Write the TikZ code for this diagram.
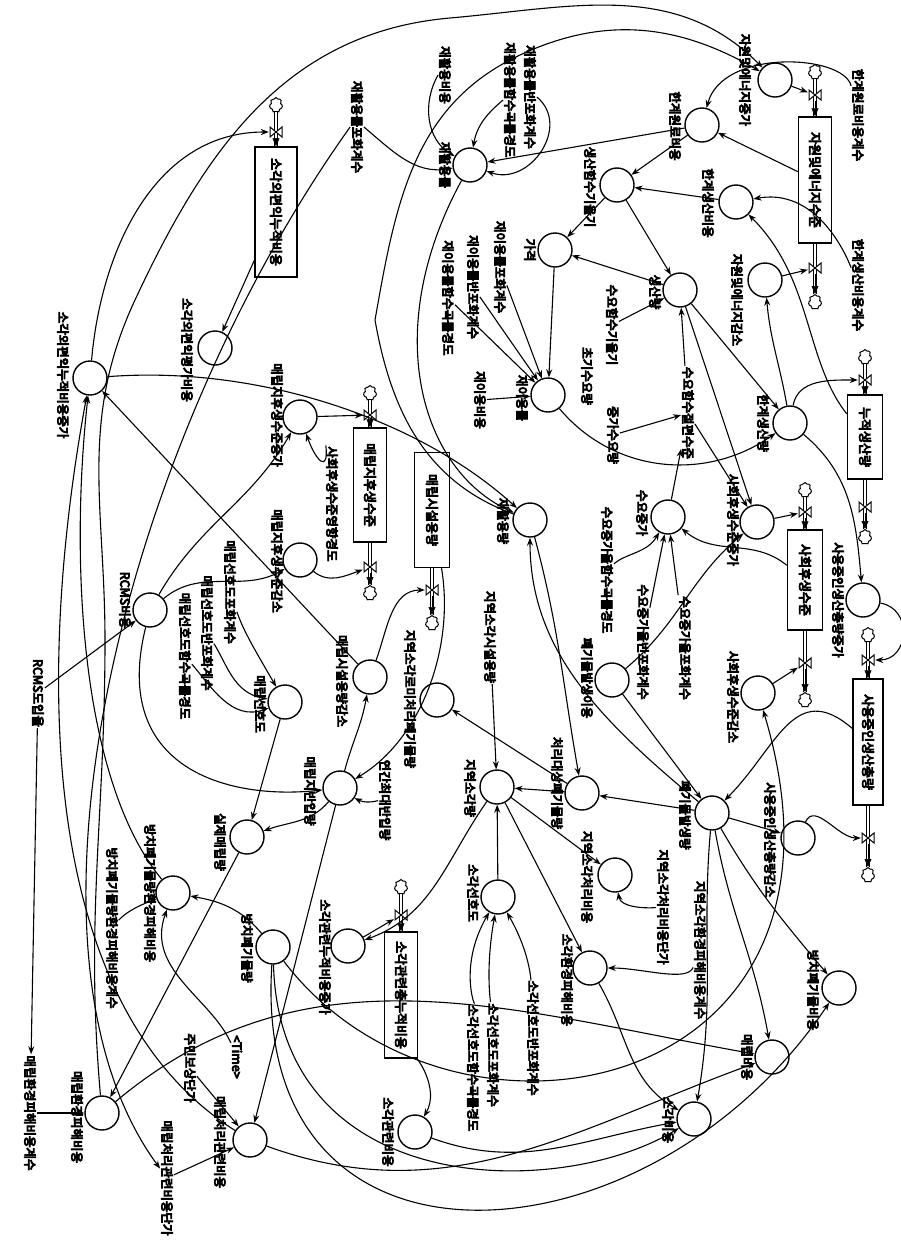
\documentclass[tikz,border=0pt]{standalone}
\usepackage{fontspec}
\newfontfamily\krfont{Noto Sans CJK KR}
\newcommand\boldon{\special{pdf:literal direct 2 Tr 0.9 w}}
\newcommand\boldoff{\special{pdf:literal direct 0 Tr}}
\usetikzlibrary{shapes.symbols,arrows.meta}
\begin{document}
\begin{tikzpicture}[x=1pt,y=1pt,
  lbl/.style={font=\krfont\fontsize{12.5}{12.5}\selectfont, rotate=-90, inner sep=1pt, execute at begin node=\boldon, execute at end node=\boldoff},
  circ/.style={circle, draw, line width=1.4pt, minimum size=34pt, inner sep=0pt},
  stock/.style={rectangle, draw, line width=1.4pt, rotate=-90, font=\krfont\fontsize{13}{13}\selectfont, inner sep=2pt, execute at begin node=\boldon, execute at end node=\boldoff},
  vnode/.style={inner sep=0pt, minimum width=14pt, minimum height=12pt},
  cloudn/.style={cloud, draw, cloud puffs=7, aspect=0.85, minimum width=13pt, minimum height=15pt, inner sep=0pt, line width=1pt},
  arr/.style={-{Stealth[length=8pt,width=6pt]}, line width=1.1pt},
  pipe/.style={double, double distance=2.6pt, line width=0.8pt},
  ftip/.style={-{Triangle[length=8pt,width=7pt]}, line width=0.6pt},
  bowtie/.pic={\draw[fill=white, line width=1pt] (-6,5)--(-6,-5)--(6,5)--(6,-5)--cycle;}
]
\fill[white] (0,0) rectangle (901,-1251);
\useasboundingbox (0,0) rectangle (901,-1251);

% ---------- stocks ----------
\node[stock, minimum width=126pt, minimum height=33pt] (B1) at (815,-180) {자원및에너지수준};
\node[stock, minimum width=84pt, minimum height=35pt] (B2) at (865,-437) {누적생산량};
\node[stock, minimum width=100pt, minimum height=35pt] (B3) at (805,-580) {사회후생수준};
\node[stock, minimum width=126pt, minimum height=30pt] (B4) at (868,-742) {사용중인생산총량};
\node[stock, minimum width=114pt, minimum height=33pt] (B5) at (370,-485) {매립지후생수준};
\node[stock, minimum width=115pt, minimum height=35pt] (B6) at (432,-510) {매립시설용량};
\node[stock, minimum width=130pt, minimum height=42pt] (B7) at (276,-212) {소각외편익누적비용};
\node[stock, minimum width=126pt, minimum height=33pt] (B8) at (401,-995) {소각관련총누적비용};

% ---------- clouds and valves ----------
\node[cloudn] (k1a) at (815,-72) {};   \node[vnode] (v1in) at (815,-95) {};
\node[vnode] (v1out) at (815,-268) {}; \node[cloudn] (k1b) at (815,-302) {};
\node[cloudn] (k2a) at (865,-357) {};  \node[vnode] (v2in) at (865,-380) {};
\node[vnode] (v2out) at (865,-507) {}; \node[cloudn] (k2b) at (865,-537) {};
\node[cloudn] (k3a) at (805,-490) {};  \node[vnode] (v3in) at (805,-512) {};
\node[vnode] (v3out) at (805,-663) {}; \node[cloudn] (k3b) at (805,-700) {};
\node[cloudn] (k4a) at (868,-635) {};  \node[vnode] (v4in) at (868,-660) {};
\node[vnode] (v4out) at (868,-838) {}; \node[cloudn] (k4b) at (868,-875) {};
\node[cloudn] (k5a) at (370,-393) {};  \node[vnode] (v5in) at (370,-415) {};
\node[vnode] (v5out) at (370,-567) {}; \node[cloudn] (k5b) at (370,-593) {};
\node[vnode] (v6out) at (432,-590) {}; \node[cloudn] (k6b) at (432,-623) {};
\node[cloudn] (k7a) at (276,-105) {};  \node[vnode] (v7in) at (276,-132) {};
\node[cloudn] (k8a) at (401,-887) {};  \node[vnode] (v8in) at (401,-915) {};

\foreach \k/\b in {k1a/B1,k2a/B2,k3a/B3,k4a/B4,k5a/B5,k7a/B7,k8a/B8}
  \draw[pipe] (\k) -- (\b.west);
\foreach \b/\k in {B1/k1b,B2/k2b,B3/k3b,B4/k4b,B5/k5b,B6/k6b}
  \draw[pipe] (\b.east) -- (\k);
\foreach \v/\b in {v1in/B1,v2in/B2,v3in/B3,v4in/B4,v5in/B5,v7in/B7,v8in/B8}
  \draw[ftip] (\v) -- (\b.west);
\foreach \v/\k in {v1out/k1b,v2out/k2b,v3out/k3b,v4out/k4b,v5out/k5b,v6out/k6b}
  \draw[ftip] (\v) -- (\k);
\foreach \v in {v1in,v1out,v2in,v2out,v3in,v3out,v4in,v4out,v5in,v5out,v6out,v7in,v8in}
  \pic at (\v) {bowtie};

% ---------- auxiliaries ----------
\node[circ] (cZAinc) at (775,-80) {};
\node[circ] (cHW) at (702,-125) {};
\node[circ] (cHS) at (736,-202) {};
\node[circ] (cZAdec) at (765,-280) {};
\node[circ] (cPS) at (617,-185) {};
\node[circ] (cPrice) at (555,-250) {};
\node[circ] (cQ) at (680,-290) {};
\node[circ] (cMarg) at (790,-423) {};
\node[circ] (cUseInc) at (863,-600) {};
\node[circ] (cUseDec) at (798,-838) {};
\node[circ] (cWaste) at (712,-813) {};
\node[circ] (cSWinc) at (757,-522) {};
\node[circ] (cSWdec) at (758,-693) {};
\node[circ] (cDemInc) at (668,-517) {};
\node[circ] (cReuse) at (548,-395) {};
\node[circ] (cRecycle) at (470,-165) {};
\node[circ] (cRecAmt) at (530,-520) {};
\node[circ] (cLFinc) at (300,-417) {};
\node[circ] (cLFdec) at (300,-560) {};
\node[circ] (cCapDec) at (370,-677) {};
\node[circ] (cUnproc) at (437,-700) {};
\node[circ] (cLFin) at (340,-788) {};
\node[circ] (cInc) at (497,-787) {};
\node[circ] (cTreat) at (582,-793) {};
\node[circ] (cIncCost) at (615,-875) {};
\node[circ] (cGen) at (612,-680) {};
\node[circ] (cIncPref) at (498,-897) {};
\node[circ] (cIncCumInc) at (348,-946) {};
\node[circ] (cIncRel) at (415,-1132) {};
\node[circ] (cIncEnv) at (590,-968) {};
\node[circ] (cLFcost) at (772,-1057) {};
\node[circ] (cAbCost) at (839,-988) {};
\node[circ] (cIncCost2) at (694,-1119) {};
\node[circ] (cActLF) at (247,-837) {};
\node[circ] (cAbEnv) at (173,-893) {};
\node[circ] (cAb) at (273,-947) {};
\node[circ] (cLFrel) at (250,-1140) {};
\node[circ] (cLFenv) at (102,-1113) {};
\node[circ] (cRCMS) at (150,-610) {};
\node[circ] (cLFpref) at (285,-702) {};
\node[circ] (cIBinc) at (90,-378) {};
\node[circ] (cIBeval) at (215,-348) {};

% ---------- labels ----------
\node[lbl] (lHWk) at (858,-115) {한계원료비용계수};
\node[lbl] (lHSk) at (858,-285) {한계생산비용계수};
\node[lbl] (lZAinc) at (745,-80) {자원및에너지증가};
\node[lbl] (lHW) at (675,-126) {한계원료비용};
\node[lbl] (lHS) at (708,-203) {한계생산비용};
\node[lbl] (lZAdec) at (737,-300) {자원및에너지감소};
\node[lbl] (lPS) at (590,-187) {생산함수기울기};
\node[lbl] (lPrice) at (530,-250) {가격};
\node[lbl] (lQ) at (655,-292) {생산량};
\node[lbl] (lDS) at (612,-325) {수요함수기울기};
\node[lbl] (lD0) at (587,-376) {초기수요량};
\node[lbl] (lDinc) at (613,-435) {증가수요량};
\node[lbl] (lDI) at (688,-413) {수요함수절편수준};
\node[lbl] (lMarg) at (763,-423) {한계생산량};
\node[lbl] (lDemInc) at (642,-513) {수요증가};
\node[lbl] (lSWinc) at (733,-520) {사회후생수준증가};
\node[lbl] (lUseInc) at (838,-600) {사용중인생산총량증가};
\node[lbl] (lSWdec) at (733,-697) {사회후생수준감소};
\node[lbl] (lUseDec) at (770,-840) {사용중인생산총량감소};
\node[lbl] (lWaste) at (685,-815) {폐기물발생량};
\node[lbl] (lIncUnit) at (663,-907) {지역소각처리비용단가};
\node[lbl] (lIncEnvk) at (700,-950) {지역소각환경피해비용계수};
\node[lbl] (lDg1) at (607,-570) {수요증가율함수곡률경도};
\node[lbl] (lDg2) at (643,-642) {수요증가율반포화계수};
\node[lbl] (lDg3) at (685,-648) {수요증가율포화계수};
\node[lbl] (lRcost) at (445,-75) {재활용비용};
\node[lbl] (lRsat) at (357,-127) {재활용률포화계수};
\node[lbl] (lRecycle) at (445,-165) {재활용률};
\node[lbl] (lRcurv) at (510,-100) {재활용률함수곡률경도};
\node[lbl] (lRhalf) at (530,-97) {재활용률반포화계수};
\node[lbl] (lUsat) at (500,-267) {재이용률포화계수};
\node[lbl] (lUhalf) at (473,-287) {재이용률반포화계수};
\node[lbl] (lUcurv) at (448,-298) {재이용률함수곡률경도};
\node[lbl] (lUcost) at (480,-400) {재이용비용};
\node[lbl] (lReuse) at (522,-398) {재이용률};
\node[lbl] (lRecAmt) at (503,-521) {재활용량};
\node[lbl] (lIBeval) at (187,-350) {소각외편익평가비용};
\node[lbl] (lIBinc) at (63,-375) {소각외편익누적비용증가};
\node[lbl] (lLFinc) at (277,-415) {매립지후생수준증가};
\node[lbl] (lSWk) at (332,-504) {사회후생수준영향경도};
\node[lbl] (lLFdec) at (277,-561) {매립지후생수준감소};
\node[lbl] (lLsat) at (230,-592) {매립선호도포화계수};
\node[lbl] (lLhalf) at (207,-633) {매립선호도반포화계수};
\node[lbl] (lLcurv) at (185,-656) {매립선호도함수곡률경도};
\node[lbl] (lRCMS) at (125,-600) {RCMS비용};
\node[lbl] (lRCMSr) at (38,-693) {RCMS도입율};
\node[lbl] (lLFpref) at (260,-704) {매립선호도};
\node[lbl] (lCapDec) at (342,-681) {매립시설용량감소};
\node[lbl] (lUnproc) at (410,-699) {지역소각로미처리폐기물량};
\node[lbl] (lIncCap) at (490,-637) {지역소각시설용량};
\node[lbl] (lGen) at (587,-678) {폐기물발생이용};
\node[lbl] (lMaxIn) at (385,-800) {연간최대반입량};
\node[lbl] (lLFin) at (310,-791) {매립지반입량};
\node[lbl] (lInc) at (470,-788) {지역소각량};
\node[lbl] (lTreat) at (557,-783) {처리대상폐기물량};
\node[lbl] (lIncCost) at (587,-877) {지역소각처리비용};
\node[lbl] (lActLF) at (220,-842) {실제매립량};
\node[lbl] (lAbEnv) at (150,-893) {방치폐기물량환경피해비용};
\node[lbl] (lAbEnvk) at (112,-928) {방치폐기물량환경피해비용계수};
\node[lbl] (lAb) at (247,-948) {방치폐기물량};
\node[lbl] (lIncPref) at (473,-893) {소각선호도};
\node[lbl] (lIncCumInc) at (325,-957) {소각관련누적비용증가};
\node[lbl] (lIncEnv) at (567,-980) {소각환경피해비용};
\node[lbl] (lIsat) at (493,-1055) {소각선호도포화계수};
\node[lbl] (lIhalf) at (533,-1038) {소각선호도반포화계수};
\node[lbl] (lIcurv) at (473,-1068) {소각선호도함수곡률경도};
\node[lbl] (lIncRel) at (388,-1132) {소각관련비용};
\node[lbl] (lLFenvk) at (30,-1113) {매립환경피해비용계수};
\node[lbl] (lLFenv) at (77,-1117) {매립환경피해비용};
\node[lbl] (lComp) at (190,-1068) {주민보상단가};
\node[lbl] (lTime) at (237,-1057) {<Time>};
\node[lbl] (lLFunit) at (167,-1178) {매립처리관련비용단가};
\node[lbl] (lLFrel) at (220,-1142) {매립처리관련비용};
\node[lbl] (lLFcost) at (747,-1057) {매립비용};
\node[lbl] (lAbCost) at (813,-990) {방치폐기물비용};
\node[lbl] (lIncCost2) at (668,-1120) {소각비용};

% ---------- connectors ----------
\draw[arr] (lHWk) to[out=110,in=75] (cHW);
\draw[arr] (lHSk) to[out=120,in=10] (cHS);
\draw[arr] (cZAinc) -- (v1in);
\draw[arr] (B1) -- (cHW);
\draw[arr] (cZAdec) -- (v1out);
\draw[arr] (cMarg) to[out=100,in=-85] (cZAdec);
\draw[arr] (cHW) -- (cPS);
\draw[arr] (cHS) -- (cPS);
\draw[arr] (cHW) -- (cRecycle);
\draw[arr] (cPS) -- (cPrice);
\draw[arr] (cPS) -- (cQ);
\draw[arr] (cQ) -- (cPrice);
\draw[arr] (lDS) -- (cQ);
\draw[arr] (lDI) -- (cQ);
\draw[arr] (cQ) -- (cMarg);
\draw[arr] (cQ) -- (cSWinc);
\draw[arr] (lDI) -- (cSWinc);
\draw[arr] (lDinc) -- (lDI);
\draw[arr] (cDemInc) -- (lDI);
\draw[arr] (B3) to[out=190,in=-40] (cDemInc);
\draw[arr] (cReuse) to[out=-50,in=215] (cMarg);
\draw[arr] (cMarg) to[out=80,in=180] (v2in);
\draw[arr] (cMarg) to[out=-40,in=95] (cUseInc);
\draw[arr] (B2) to[out=150,in=-45] (cHS);
\draw[arr] (lDg1) to[out=60,in=240] (cDemInc);
\draw[arr] (lDg2) -- (cDemInc);
\draw[arr] (lDg3) -- (cDemInc);
\draw[arr] (cGen) to[out=40,in=220] (cSWinc);
\draw[arr] (cGen) -- (cWaste);
\draw[arr] (cWaste) .. controls (600,-720) and (530,-650) .. (cRecAmt);
\draw[arr] (cRecAmt) to[out=-75,in=100] (cTreat);
\draw[arr] (cSWinc) -- (v3in);
\draw[arr] (cSWdec) -- (v3out);
\draw[arr] (cAb) .. controls (450,-1180) and (880,-1100) .. (cSWdec);
\draw[arr] (B4) to[out=180,in=45] (cWaste);
\draw[arr] (cWaste) -- (cUseDec);
\draw[arr] (cUseDec) to[out=65,in=180] (v4out);
\draw[arr] (cUseInc) to[out=-10,in=0,looseness=1.5] (v4in);
\draw[arr] (cWaste) -- (cTreat);
\draw[arr] (cWaste) to[out=-95,in=80] (cIncCost2);
\draw[arr] (cWaste) to[out=-80,in=100] (cLFcost);
\draw[arr] (cWaste) to[out=-60,in=130] (cAbCost);
\draw[arr] (cTreat) -- (cUnproc);
\draw[arr] (cTreat) -- (cInc);
\draw[arr] (cInc) -- (cIncCost);
\draw[arr] (lIncUnit) to[out=220,in=-80] (cIncCost);
\draw[arr] (lIncCap) -- (cInc);
\draw[arr] (B6) .. controls (455,-650) and (420,-740) .. (cLFin);
\draw[arr] (lMaxIn) to[bend left=20] (cLFin);
\draw[arr] (cLFin) to[out=75,in=-100] (cCapDec);
\draw[arr] (cCapDec) to[out=70,in=180] (v6out);
\draw[arr] (cInc) to[out=235,in=20] (cIncCumInc);
\draw[arr] (cIBinc) to[out=85,in=180] (v7in);
\draw[arr] (B7) -- (cIBeval);
\draw[arr] (cLFinc) -- (v5in);
\draw[arr] (cLFdec) to[out=-40,in=200] (v5out);
\draw[arr] (lSWk) to[out=110,in=-70] (cLFinc);
\draw[arr] (lRCMSr) -- (cRCMS);
\draw[arr] (lRCMSr) -- (lLFenvk);
\draw[arr] (lLFenvk) -- (cLFenv);
\draw[arr] (lLFunit) -- (cLFrel);
\draw[arr] (lComp) -- (cLFrel);
\draw[arr] (cLFin) -- (cLFrel);
\draw[arr] (cActLF) -- (cLFenv);
\draw[arr] (lAbEnvk) to[out=70,in=200] (cAbEnv);
\draw[arr] (cAb) to[out=130,in=-10] (cAbEnv);
\draw[arr] (lTime) to[out=120,in=-110] (cAbEnv);
\draw[arr] (cAb) .. controls (250,-1300) and (650,-1270) .. (cAbCost);
\draw[arr] (cAb) .. controls (280,-1200) and (560,-1200) .. (cIncCost2);
\draw[arr] (lLsat) to[out=-60,in=120] (cLFpref);
\draw[arr] (lLhalf) to[out=-40,in=170] (cLFpref);
\draw[arr] (lLcurv) to[out=-30,in=200] (cLFpref);
\draw[arr] (cLFpref) -- (cActLF);
\draw[arr] (cLFin) to[out=230,in=20] (cActLF);
\draw[arr] (cIncPref) -- (cInc);
\draw[arr] (lIsat) to[out=100,in=-100] (cIncPref);
\draw[arr] (lIhalf) to[out=100,in=-60] (cIncPref);
\draw[arr] (lIcurv) to[out=95,in=-120] (cIncPref);
\draw[arr] (cIncCumInc) -- (v8in);
\draw[arr] (B8) to[out=-20,in=60] (cIncRel);
\draw[arr] (cInc) -- (cIncEnv);
\draw[arr] (lIncEnvk) to[out=260,in=0] (cIncEnv);
\draw[arr] (cIncRel) to[out=-20,in=190] (cIncCost2);
\draw[arr] (cIncEnv) to[out=-60,in=150] (cIncCost2);
\draw[arr] (cLFrel) to[out=-20,in=200] (cLFcost);
\draw[arr] (cLFenv) to[out=40,in=170] (cLFcost);
\draw[arr] (lUsat) -- (cReuse);
\draw[arr] (lUhalf) -- (cReuse);
\draw[arr] (lUcurv) -- (cReuse);
\draw[arr] (lUcost) -- (cReuse);
\draw[arr] (cPrice) -- (cReuse);
\draw[arr] (lRsat.north) to[out=-40,in=190] (cRecycle);
\draw[arr] (lRcost.south) to[out=240,in=150] (cRecycle);
\draw[arr] (lRcurv.south) to[out=220,in=80] (cRecycle);
\draw[arr] (lRhalf.north) to[out=-40,in=-20,looseness=1.3] (cRecycle);
\draw[arr] (cRecycle) .. controls (380,-330) and (420,-470) .. (cRecAmt);
\draw[arr] (cRecAmt) to[out=160,in=-80] (375,-320) to[out=80,in=205] (520,-55) to[out=25,in=150] (cZAinc);
% long arcs on the left
\draw[arr] (cIBinc) .. controls (260,-365) and (420,-420) .. (cRecAmt);
\draw[arr] (cLFenv) to[out=95,in=-90] (105,-640) to[out=90,in=-115] (135,-300) to[out=65,in=185] (450,-18) to[out=5,in=135] (cZAinc);
\draw[arr] (cRCMS) to[out=60,in=-120] (cLFinc);
\draw[arr] (cRCMS) to[out=40,in=-150] (cLFdec);
\draw[arr] (cRCMS) .. controls (110,-770) and (230,-800) .. (cLFin);
\draw[arr] (cCapDec) -- (cIBinc);
\draw[arr] (lRsat.south) .. controls (120,-450) and (0,-950) .. (lLFunit);
\draw[arr] (cLFrel) .. controls (30,-1000) and (40,-650) .. (cIBinc);
\draw[arr] (cAbEnv) .. controls (80,-780) and (70,-560) .. (cIBinc);
\end{tikzpicture}
\end{document}
